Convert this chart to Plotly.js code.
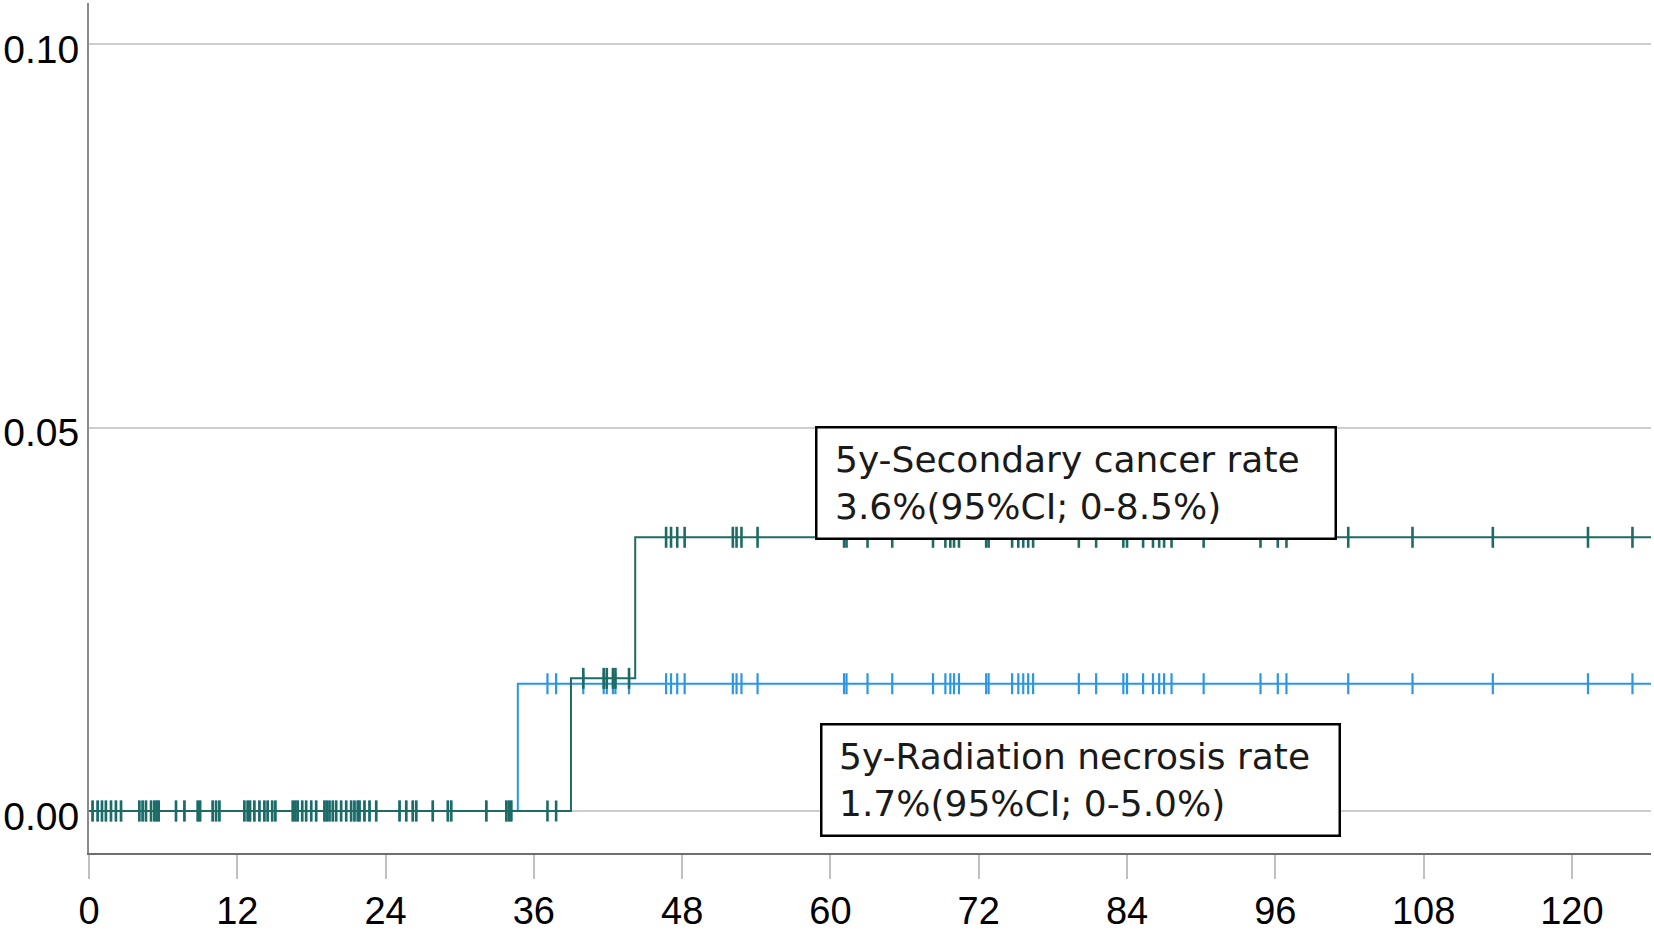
<!DOCTYPE html>
<html>
<head>
<meta charset="utf-8">
<script src="https://cdn.plot.ly/plotly-3.0.1.min.js"></script>
<style>html,body{margin:0;padding:0;background:#fff;}#chart{width:1654px;height:933px;}</style>
</head>
<body>
<div id="chart"></div>
<script>
// ---- data (months, cumulative incidence) ----
const xTickVals = [0, 12, 24, 36, 48, 60, 72, 84, 96, 108, 120];
const yTickVals = [0, 0.05, 0.10];
const yTickText = ['0.00', '0.05', '0.10'];

const maxFollowUp = 127;

// radiation necrosis
const necrosisEventTimes = [34.7];
const necrosisLevels = [0.0166];

// secondary cancer
const cancerEventTimes = [39.0, 44.2];
const cancerLevels = [0.0173, 0.0357];

// censoring times (shared cohort)
const censorTimes = [
  0.29, 0.70, 1.05, 1.37, 1.78, 2.18, 2.59, 4.07, 4.34, 4.61, 5.02, 5.29, 5.47, 5.64,
  7.04, 7.72, 8.80, 8.99, 10.01, 10.28, 10.55, 12.57, 12.84, 13.03, 13.38, 13.79,
  14.19, 14.46, 14.82, 15.08, 16.49, 16.70, 16.89, 17.25, 17.57, 17.98, 18.38,
  19.05, 19.24, 19.46, 19.73, 20.0, 20.4, 20.81, 21.21, 21.48, 21.75, 21.89, 22.29,
  22.70, 23.24, 25.13, 25.67, 26.2, 26.48, 27.82, 29.04, 29.31, 32.15, 33.77,
  33.98, 34.17, 37.1, 37.8, 40.0, 41.65, 41.9, 42.4, 42.6, 43.7,
  46.7, 47.1, 47.6, 48.2, 52.1, 52.4, 52.8, 54.1,
  61.1, 61.3, 63.0, 65.0, 68.3, 69.3, 69.7, 70.0, 70.4, 72.6, 72.8, 74.7, 75.2,
  75.6, 76.0, 76.4, 80.1, 81.5, 83.7, 84.0, 85.3, 86.1, 86.6, 87.0, 87.6, 90.2,
  94.8, 96.2, 96.9, 101.9, 107.1, 113.6, 121.3, 124.9
];

const necrosisLabel = '5y-Radiation necrosis rate<br>1.7%(95%CI; 0-5.0%)';
const cancerLabel = '5y-Secondary cancer rate<br>3.6%(95%CI; 0-8.5%)';

// ---- helpers ----
function stepXY(times, levels) {
  const xs = [0], ys = [0];
  times.forEach((t, i) => { xs.push(t); ys.push(levels[i]); });
  xs.push(maxFollowUp); ys.push(levels[levels.length - 1]);
  return {xs, ys};
}
function levelAt(times, levels, t) {
  let v = 0;
  times.forEach((e, i) => { if (t >= e) v = levels[i]; });
  return v;
}

const blue = '#2b97e3';
const teal = '#1d6b63';

const nec = stepXY(necrosisEventTimes, necrosisLevels);
const can = stepXY(cancerEventTimes, cancerLevels);

const traces = [
  {x: nec.xs, y: nec.ys, mode: 'lines', line: {shape: 'hv', color: blue, width: 2}, hoverinfo: 'skip'},
  {x: censorTimes, y: censorTimes.map(t => levelAt(necrosisEventTimes, necrosisLevels, t)),
   mode: 'markers', marker: {symbol: 'line-ns', size: 15, line: {color: blue, width: 2.2}}, hoverinfo: 'skip'},
  {x: can.xs, y: can.ys, mode: 'lines', line: {shape: 'hv', color: teal, width: 2}, hoverinfo: 'skip'},
  {x: censorTimes, y: censorTimes.map(t => levelAt(cancerEventTimes, cancerLevels, t)),
   mode: 'markers', marker: {symbol: 'line-ns', size: 15, line: {color: teal, width: 2.6}}, hoverinfo: 'skip'}
];

const boxFont = {family: '"DejaVu Sans", sans-serif', size: 36, color: '#1a1a1a'};

function labelBox(cx, cy, textX, text, w) {
  return [
    {x: cx, y: cy, xref: 'x', yref: 'y', text: ' ', showarrow: false,
     width: w, height: 109, borderwidth: 2.5, borderpad: 0,
     bordercolor: '#000', bgcolor: '#fff', font: boxFont},
    {x: textX, y: cy, xref: 'x', yref: 'y', xanchor: 'left', yanchor: 'middle',
     text: text, showarrow: false, align: 'left', font: boxFont}
  ];
}

const layout = {
  width: 1654, height: 933,
  margin: {l: 89, r: 3, t: 3, b: 80},
  paper_bgcolor: '#ffffff', plot_bgcolor: '#ffffff',
  showlegend: false,
  font: {family: '"Liberation Sans", Arial, sans-serif', color: '#000'},
  xaxis: {
    range: [0, 126.4], tickvals: xTickVals, ticks: 'outside', ticklen: 24, tickwidth: 2,
    tickcolor: '#c0c0c0', showline: true, linecolor: '#6e6e6e', linewidth: 2,
    showgrid: false, zeroline: false, tickfont: {size: 38, color: '#000'},
    ticklabelstandoff: -1
  },
  yaxis: {
    range: [-0.00548, 0.10539], tickvals: yTickVals, ticktext: yTickText, ticks: '',
    showline: true, linecolor: '#8a8a8a', linewidth: 2,
    showgrid: true, gridcolor: '#cdcdcd', gridwidth: 2, zeroline: false,
    tickfont: {size: 39, color: '#000'}, ticklabelstandoff: 0, ticklabelshift: 5
  },
  annotations: [
    ...labelBox(79.9, 0.0428, 60.2, cancerLabel, 517),
    ...labelBox(80.2, 0.0040, 60.55, necrosisLabel, 516)
  ]
};

Plotly.newPlot('chart', traces, layout, {displayModeBar: false, staticPlot: true});
</script>
</body>
</html>
